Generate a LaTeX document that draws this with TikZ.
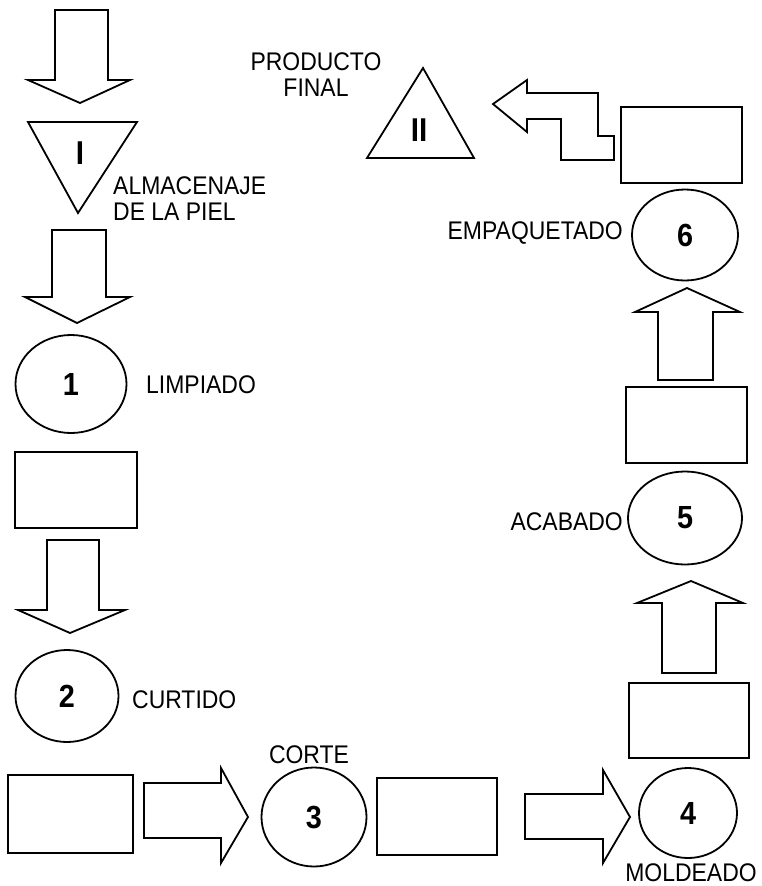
\documentclass[tikz,border=0pt]{standalone}
\usepackage{fontspec}
\setmainfont{Liberation Sans}[FakeStretch=0.9]
\usetikzlibrary{shapes.geometric}
\begin{document}
\begin{tikzpicture}[x=1pt,y=-1pt,
  outl/.style={draw=black, line width=1.8pt, line join=miter, fill=white},
  box/.style={draw=black, line width=1.8pt, rectangle, inner sep=0pt},
  oval/.style={draw=black, line width=1.8pt, ellipse, inner sep=0pt, font=\fontsize{32}{34}\selectfont\bfseries},
  tri/.style={font=\fontsize{33}{35}\selectfont\bfseries, inner sep=0pt},
  lbl/.style={font=\fontsize{25.5}{26}\selectfont, inner sep=0pt},
]
\useasboundingbox (0,0) rectangle (761,886);

% ---- block arrows ----
% A1 down (top)
\draw[outl] (55,10) -- (108,10) -- (108,80) -- (130,80) -- (80,103) -- (28,80) -- (55,80) -- cycle;
% inverted triangle I
\draw[outl] (28,122) -- (137,122) -- (78,213) -- cycle;
\node[tri] (tI) at (80,153) {I};
\node[lbl, anchor=west, align=left] (almac) at (113,199) {ALMACENAJE\\DE LA PIEL};
% A2 down
\draw[outl] (52,230) -- (106,230) -- (106,297) -- (130,297) -- (77,323) -- (25,297) -- (52,297) -- cycle;
% circle 1
\node[oval, minimum width=111pt, minimum height=98pt] (c1) at (71,384) {1};
\node[lbl, anchor=west] (limp) at (146,385) {LIMPIADO};
% rect left middle
\node[box, minimum width=122pt, minimum height=76pt] (r1) at (76,490) {};
% A3 down
\draw[outl] (47,540) -- (99,540) -- (99,610) -- (125,610) -- (70,633) -- (18,610) -- (47,610) -- cycle;
% circle 2
\node[oval, minimum width=103pt, minimum height=92pt] (c2) at (67,696) {2};
\node[lbl, anchor=west] (curt) at (132,700) {CURTIDO};
% rect bottom left
\node[box, minimum width=125pt, minimum height=78pt] (r2) at (70.5,814) {};
% A4 right
\draw[outl] (144,783) -- (221,783) -- (221,768) -- (248,817) -- (221,863) -- (221,838) -- (144,838) -- cycle;
% circle 3
\node[oval, minimum width=105pt, minimum height=99pt] (c3) at (314,817) {3};
\node[lbl] (corte) at (309,755) {CORTE};
% rect bottom middle
\node[box, minimum width=120pt, minimum height=77pt] (r3) at (437,816.5) {};
% A5 right
\draw[outl] (525,794) -- (603,794) -- (603,770) -- (630,817) -- (603,863) -- (603,839) -- (525,839) -- cycle;
% circle 4
\node[oval, minimum width=98pt, minimum height=90pt] (c4) at (688,813) {4};
\node[lbl] (mold) at (691,873) {MOLDEADO};
% rect right lower
\node[box, minimum width=120pt, minimum height=75pt] (r4) at (689,720.5) {};
% A6 up
\draw[outl] (662,673) -- (716,673) -- (716,603) -- (743,603) -- (691,581) -- (637,603) -- (662,603) -- cycle;
% circle 5
\node[oval, minimum width=114pt, minimum height=93pt] (c5) at (685,518) {5};
\node[lbl, anchor=east] (acab) at (623,522) {ACABADO};
% rect right middle
\node[box, minimum width=121pt, minimum height=76pt] (r5) at (686.5,425) {};
% A7 up
\draw[outl] (658,380) -- (713,380) -- (713,312) -- (740,312) -- (687,288) -- (635,312) -- (658,312) -- cycle;
% circle 6
\node[oval, minimum width=106pt, minimum height=91pt] (c6) at (685,235) {6};
\node[lbl, anchor=east] (empaq) at (623,233) {EMPAQUETADO};
% rect top right
\node[box, minimum width=121pt, minimum height=76pt] (r6) at (681.5,145) {};
% bent arrow left
\draw[outl] (493,104) -- (527,80) -- (527,93) -- (598,93) -- (598,136) -- (614,136) -- (614,160)
  -- (561,160) -- (561,119) -- (527,119) -- (527,132) -- cycle;
% triangle II
\draw[outl] (423,68) -- (474,158) -- (367,158) -- cycle;
\node[tri] (tII) at (419,130) {II};
\node[lbl, align=center] (prod) at (316,75) {PRODUCTO\\FINAL};
\end{tikzpicture}
\end{document}
